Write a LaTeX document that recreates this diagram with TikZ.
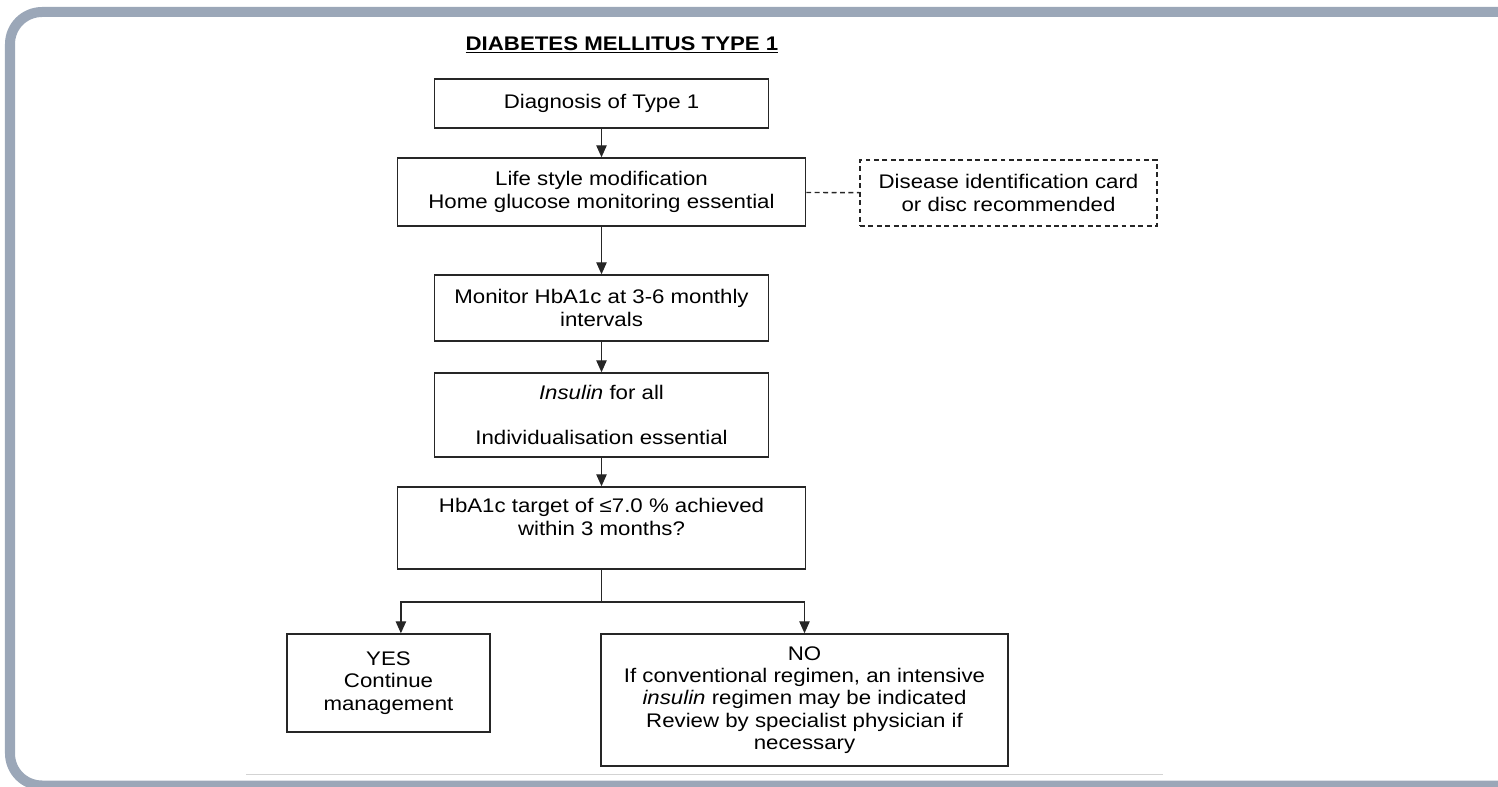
\documentclass[tikz,border=0pt]{standalone}
\usepackage{fontspec}
\setmainfont{Liberation Sans}[FakeStretch=1.13]
\usetikzlibrary{arrows.meta}
\definecolor{framegray}{HTML}{9BA7B8}
\definecolor{rulegray}{HTML}{D3D3D3}

\begin{document}
\begin{tikzpicture}[x = 0.025cm, y = -0.025cm]
			    \tikzstyle{edge}=[draw,line width = 1pt,-,black!85]
			    \tikzstyle{arrow}=[edge,-{Triangle[length=3mm,width=2.6mm]}]
			    \tikzstyle{stepbox}=[draw,line width = 1pt,black!85,text=black,align=center,inner sep=2pt,font=\fontsize{14pt}{15.8pt}\selectfont]
			    \tikzstyle{notebox}=[stepbox,dash pattern=on 3.5pt off 2.5pt]
			    \useasboundingbox (0,0) rectangle (1498,787);
			    \draw[framegray,line width=.25cm,rounded corners=.8cm] (1520,12) -- (10,12) -- (10,785.5) -- (1520,785.5);
			    \draw[rulegray,line width=.6pt] (246,774) -- (1163,774);
			    \node[font=\fontsize{14pt}{15.8pt}\selectfont\bfseries] (title) at (622,45) {\underline{DIABETES MELLITUS TYPE 1}};
			    \node[stepbox,minimum width=8.35cm,minimum height=1.225cm] (diag) at (601.5,103.5) {Diagnosis of Type 1};
			    \node[stepbox,minimum width=10.2cm,minimum height=1.7cm] (life) at (601.5,192) {Life style modification\\Home glucose monitoring essential};
			    \node[notebox,minimum width=7.425cm,minimum height=1.65cm] (card) at (1008.5,193) {Disease identification card\\or disc recommended};
			    \node[stepbox,minimum width=8.35cm,minimum height=1.65cm] (monitor) at (601.5,308) {Monitor HbA1c at 3-6 monthly\\intervals};
			    \node[stepbox,minimum width=8.35cm,minimum height=2.1cm] (insulin) at (601.5,415) {\textit{Insulin} for all\\\mbox{}\\Individualisation essential};
			    \node[stepbox,minimum width=10.2cm,minimum height=2.05cm] (target) at (601.5,528) {HbA1c target of ≤7.0 \% achieved\\within 3 months?\\\mbox{}};
			    \node[stepbox,minimum width=5.075cm,minimum height=2.45cm] (yes) at (388.5,683) {YES\\Continue\\management};
			    \node[stepbox,minimum width=10.175cm,minimum height=3.3cm] (no) at (804.5,700) {NO\\If conventional regimen, an intensive\\\textit{insulin} regimen may be indicated\\Review by specialist physician if\\necessary};
			    \coordinate (split) at (601.5,602);
			    \draw[arrow] (diag) -- (life);
			    \draw[notebox] (life) -- (card);
			    \draw[arrow] (life) -- (monitor);
			    \draw[arrow] (monitor) -- (insulin);
			    \draw[arrow] (insulin) -- (target);
			    \draw[edge] (target) -- (split);
			    \draw[arrow] (split) -| ([xshift=.31cm]yes.north);
			    \draw[arrow] (split) -| (no.north);
			\end{tikzpicture}
\end{document}
